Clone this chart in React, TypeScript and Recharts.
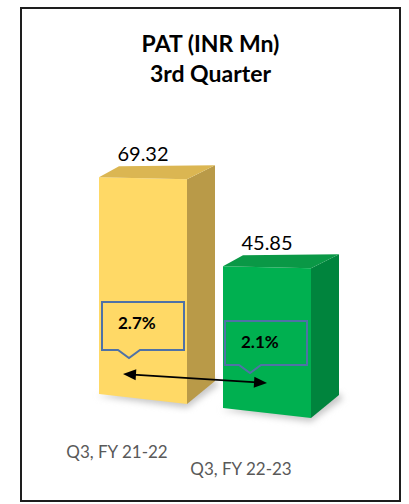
import React from "react";
import { BarChart, Bar, XAxis, YAxis, LabelList } from "recharts";

const categories = ["Q3, FY 21-22", "Q3, FY 22-23"];
const patValues = [69.32, 45.85];
const marginLabels = ["2.7%", "2.1%"];
const titleLines = ["PAT (INR Mn)", "3rd Quarter"];

const data = categories.map((name, i) => ({ name, pat: patValues[i], margin: marginLabels[i] }));

const FONT = "Lato, 'Open Sans', sans-serif";

const LOOK = [
  { front: "#FFD966", side: "#B99A48", top: "#DBB652", drop: 0, boxTop: 97, boxH: 48, boxDx: 3, boxW: 82, ptr: 27 },
  { front: "#00B050", side: "#00843D", top: "#0A9846", drop: 14, boxTop: 92, boxH: 44, boxDx: 2, boxW: 82, ptr: 25 },
];
const BAND = 124;

function arrowHead(tx: number, ty: number, ux: number, uy: number) {
  const L = 13, W = 5.5;
  const bx = tx - ux * L, by = ty - uy * L;
  return `${tx},${ty} ${bx - uy * W},${by + ux * W} ${bx + uy * W},${by - ux * W}`;
}

function Bar3D(props: any) {
  const { x, y, width, height, index } = props;
  const s = LOOK[index] || LOOK[0];
  const w = width;
  const top = y + s.drop;
  const bottom = y + height + s.drop;
  const base = y + height;
  const dxR = 28, dyR = 12, dxL = 20, dyL = 11;
  const front = `${x},${top} ${x + w},${top + 2} ${x + w},${bottom + 5} ${x},${bottom - 5}`;
  const side = `${x + w},${top + 2} ${x + w + dxR},${top - dyR} ${x + w + dxR},${bottom - 18} ${x + w},${bottom + 5}`;
  const topFace = `${x},${top} ${x + dxL},${top - dyL} ${x + w + dxR},${top - dyR} ${x + w},${top + 2}`;
  const bl = x + s.boxDx, bt = bottom - s.boxTop, bb = bt + s.boxH, br = bl + s.boxW, px = bl + s.ptr;
  const box = `M${bl},${bt} H${br} V${bb} H${px + 11} L${px},${bb + 8} L${px - 11},${bb} H${bl} Z`;
  let arrow = null;
  if (index === 1) {
    const x1 = x - BAND + 24, y1 = base - 25;
    const x2 = x + 44, y2 = base - 16;
    const len = Math.hypot(x2 - x1, y2 - y1);
    const ux = (x2 - x1) / len, uy = (y2 - y1) / len;
    arrow = (
      <g>
        <line x1={x1 + ux * 10} y1={y1 + uy * 10} x2={x2 - ux * 10} y2={y2 - uy * 10} stroke="#000" strokeWidth={1.6} />
        <polygon points={arrowHead(x1, y1, -ux, -uy)} fill="#000" />
        <polygon points={arrowHead(x2, y2, ux, uy)} fill="#000" />
      </g>
    );
  }
  return (
    <g>
      <defs>
        <filter id={`sh${index}`} x="-20%" y="-20%" width="140%" height="140%">
          <feGaussianBlur stdDeviation="3" />
        </filter>
      </defs>
      <polygon
        points={`${x - 2},${bottom - 3} ${x + w},${bottom + 9} ${x + w + dxR + 4},${bottom - 14} ${x + w + dxR},${bottom - 20}`}
        fill="#c8c8c8"
        filter={`url(#sh${index})`}
      />
      <polygon points={front} fill={s.front} />
      <polygon points={side} fill={s.side} />
      <polygon points={topFace} fill={s.top} />
      <path d={box} fill="none" stroke="#4F72A6" strokeWidth={2} />
      <text x={bl + 16} y={bt + 27} fontFamily={FONT} fontWeight={700} fontSize={17} fill="#000">
        {marginLabels[index]}
      </text>
      {arrow}
    </g>
  );
}

function ValueLabel(props: any) {
  const { x, y, width, value } = props;
  const i = patValues.indexOf(Number(value));
  const s = LOOK[i] || LOOK[0];
  return (
    <text x={x + width / 2} y={y + s.drop - 16} textAnchor="middle" fontFamily={FONT} fontSize={20} fill="#000">
      {Number(value).toFixed(2)}
    </text>
  );
}

function CatTick(props: any) {
  const { x, y, payload } = props;
  const i = payload.index ?? categories.indexOf(payload.value);
  const dy = i === 0 ? 51 : 68;
  return (
    <text x={x - 26} y={y + dy} textAnchor="middle" fontFamily={FONT} fontSize={17} fill="#595959">
      {payload.value}
    </text>
  );
}

export default function App() {
  return (
    <div style={{ position: "absolute", left: 0, top: 0, width: 409, height: 504, background: "#fff", overflow: "hidden" }}>
      <div
        style={{
          position: "absolute",
          left: 20,
          top: 7,
          width: 377,
          height: 491,
          border: "2px solid #1e1e1e",
          pointerEvents: "none",
        }}
      />
      <div
        style={{
          position: "absolute",
          left: 20,
          top: 28,
          width: 381,
          textAlign: "center",
          fontFamily: FONT,
          fontWeight: 700,
          fontSize: 23,
          lineHeight: "30px",
          color: "#000",
        }}
      >
        <div>{titleLines[0]}</div>
        <div>{titleLines[1]}</div>
      </div>
      <div style={{ position: "absolute", left: 0, top: 0 }}>
        <BarChart width={409} height={504} data={data} margin={{ top: 79, right: 80, bottom: 45, left: 81 }} barSize={88}>
          <YAxis hide domain={[0, 100]} />
          <XAxis dataKey="name" height={60} axisLine={false} tickLine={false} tick={<CatTick />} interval={0} />
          <Bar dataKey="pat" isAnimationActive={false} shape={<Bar3D />}>
            <LabelList dataKey="pat" content={<ValueLabel />} />
          </Bar>
        </BarChart>
      </div>
    </div>
  );
}
